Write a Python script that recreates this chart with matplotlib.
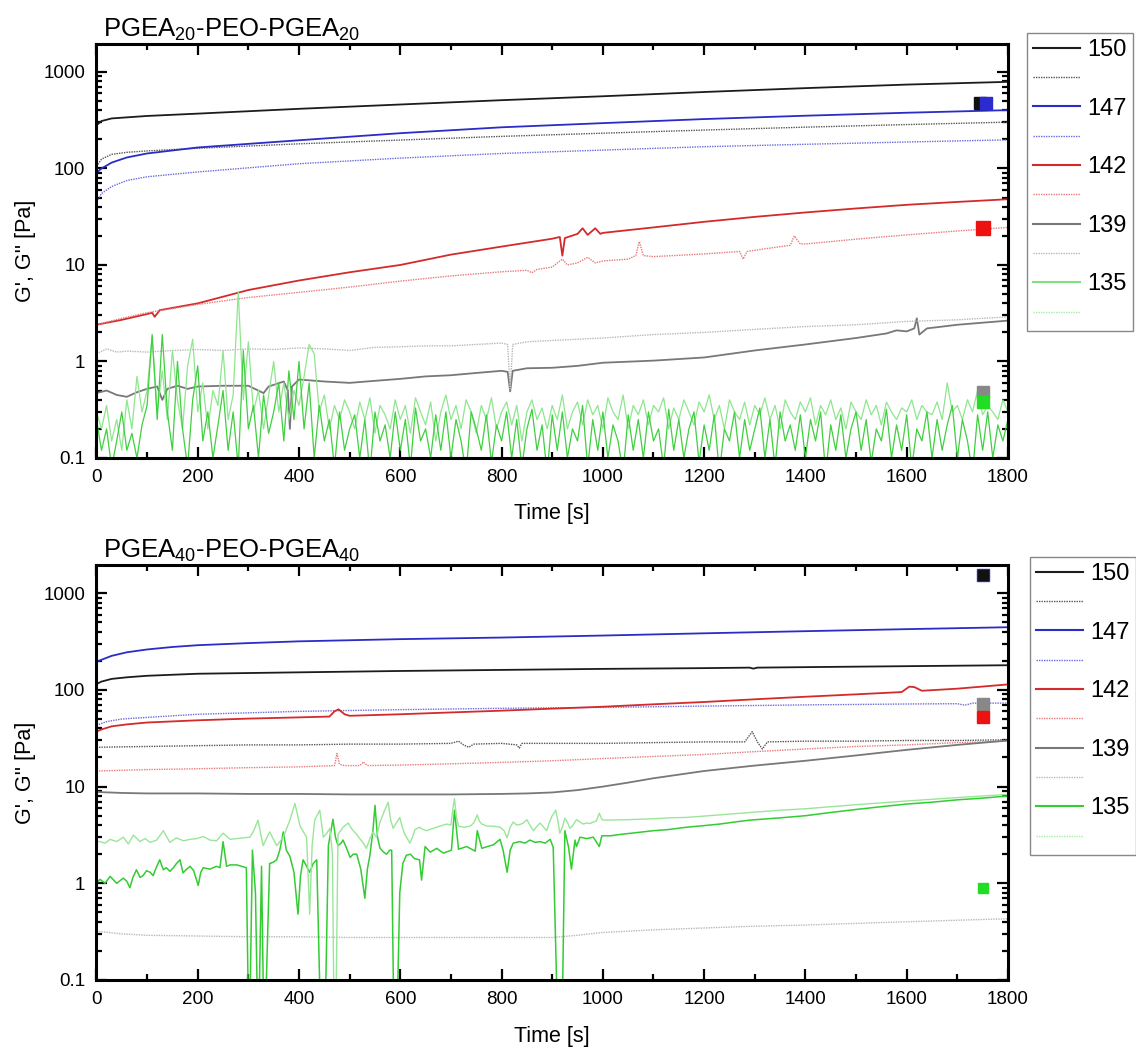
import numpy as np
import matplotlib.pyplot as plt
from matplotlib.ticker import LogLocator, NullFormatter, MultipleLocator
from matplotlib.lines import Line2D

plt.rcParams['font.family'] = ['Liberation Sans', 'DejaVu Sans']
plt.rcParams['mathtext.default'] = 'regular'

# ---------------- data (time [s], modulus [Pa]) ----------------
temps = ['150', '147', '142', '139', '135']

# top panel: PGEA20-PEO-PGEA20
top_150_gp = [(0, 280), (10, 310), (30, 330), (100, 350), (200, 370), (400, 415), (600, 460),
              (800, 510), (1000, 560), (1200, 620), (1400, 680), (1600, 740), (1800, 790)]
top_150_gpp = [(0, 105), (10, 125), (30, 140), (60, 147), (100, 152), (200, 162), (400, 180),
               (600, 197), (800, 215), (1000, 232), (1200, 250), (1400, 268), (1600, 285), (1800, 302)]
top_147_gp = [(0, 90), (10, 100), (30, 115), (60, 130), (100, 143), (200, 165), (400, 196),
              (600, 232), (800, 267), (1000, 295), (1200, 325), (1400, 352), (1600, 378), (1800, 402)]
top_147_gpp = [(0, 45), (10, 55), (30, 65), (60, 75), (100, 82), (200, 92), (400, 112), (600, 128),
               (800, 143), (1000, 155), (1200, 168), (1400, 178), (1600, 188), (1800, 198)]
top_142_gp = [(0, 2.4), (50, 2.7), (100, 3.1), (110, 3.2), (115, 2.9), (125, 3.4), (200, 4.0),
              (300, 5.5), (400, 6.9), (500, 8.4), (600, 10.0), (700, 12.8), (800, 15.5), (900, 18.7),
              (915, 19.5), (920, 12.5), (925, 19), (950, 21), (960, 24), (970, 20.5), (985, 24),
              (995, 21), (1000, 21.5), (1100, 24.5), (1200, 28), (1300, 31.5), (1400, 35),
              (1500, 38.5), (1600, 42), (1700, 45), (1800, 48)]
top_142_gpp = [(0, 2.4), (50, 2.8), (100, 3.2), (200, 3.9), (300, 4.6), (400, 5.2), (500, 5.9),
               (600, 6.8), (700, 7.7), (800, 8.5), (850, 8.8), (860, 8.3), (870, 9.0), (900, 9.5),
               (920, 11.5), (930, 10), (950, 10.5), (970, 12), (985, 10.5), (1000, 11), (1050, 11.5),
               (1065, 12.5), (1072, 17.5), (1080, 12.5), (1100, 12.2), (1200, 13), (1270, 13.8),
               (1277, 11.5), (1285, 13.8), (1300, 14.2), (1370, 16), (1378, 20), (1390, 16.5),
               (1400, 16.5), (1500, 18.5), (1600, 20.5), (1700, 22.5), (1800, 24.5)]
top_139_gp = [(0, 0.47), (20, 0.5), (40, 0.45), (60, 0.43), (80, 0.48), (100, 0.52), (120, 0.55),
              (130, 0.4), (140, 0.52), (160, 0.56), (180, 0.52), (200, 0.55), (250, 0.56), (300, 0.56),
              (330, 0.47), (340, 0.55), (370, 0.62), (378, 0.5), (382, 0.2), (386, 0.55), (400, 0.65),
              (450, 0.62), (500, 0.6), (550, 0.63), (600, 0.66), (650, 0.7), (700, 0.72), (750, 0.76),
              (800, 0.8), (812, 0.78), (817, 0.49), (822, 0.8), (850, 0.85), (900, 0.86), (950, 0.9),
              (1000, 0.97), (1100, 1.02), (1200, 1.1), (1300, 1.3), (1400, 1.5), (1500, 1.75),
              (1560, 1.95), (1580, 2.1), (1600, 2.05), (1615, 2.2), (1620, 2.8), (1625, 1.9),
              (1640, 2.2), (1700, 2.4), (1800, 2.65)]
top_139_gpp = [(0, 1.2), (20, 1.35), (40, 1.25), (60, 1.28), (100, 1.25), (150, 1.3), (200, 1.33),
               (250, 1.3), (300, 1.35), (350, 1.33), (400, 1.38), (450, 1.35), (500, 1.3), (550, 1.4),
               (600, 1.42), (650, 1.45), (700, 1.45), (750, 1.5), (800, 1.55), (812, 1.5), (817, 0.52),
               (822, 1.5), (850, 1.6), (900, 1.65), (1000, 1.75), (1100, 1.9), (1200, 2.0), (1300, 2.15),
               (1400, 2.3), (1500, 2.4), (1600, 2.6), (1700, 2.7), (1800, 2.9)]
# 135 traces are sampled every 10 s
top_135_t = np.arange(0, 1801, 10)
top_135_gp = [0.25, 0.12, 0.2, 0.08, 0.15, 0.3, 0.12, 0.18, 0.1, 0.22,
              0.35, 1.9, 0.25, 1.9, 0.3, 0.12, 1.0, 0.2, 0.08, 0.4,
              0.9, 0.15, 0.3, 0.1, 0.22, 0.5, 0.12, 0.3, 0.08, 1.3,
              0.2, 0.35, 0.1, 0.45, 0.18, 0.3, 0.6, 0.15, 0.8, 0.25,
              1.0, 0.2, 0.6, 0.1, 0.35, 0.15, 0.25, 0.08, 0.3, 0.12,
              0.2, 0.28, 0.1, 0.25, 0.07, 0.3, 0.15, 0.22, 0.1, 0.3,
              0.12, 0.25, 0.08, 0.33, 0.15, 0.2, 0.1, 0.28, 0.12, 0.3,
              0.1, 0.25, 0.15, 0.07, 0.3, 0.2, 0.12, 0.28, 0.09, 0.22,
              0.15, 0.3, 0.1, 0.25, 0.08, 0.2, 0.32, 0.12, 0.22, 0.07,
              0.28, 0.12, 0.3, 0.1, 0.2, 0.15, 0.35, 0.08, 0.25, 0.12,
              0.3, 0.1, 0.22, 0.15, 0.07, 0.28, 0.12, 0.25, 0.1, 0.3,
              0.15, 0.2, 0.08, 0.32, 0.12, 0.25, 0.1, 0.2, 0.3, 0.09,
              0.22, 0.12, 0.28, 0.07, 0.2, 0.15, 0.3, 0.1, 0.25, 0.12,
              0.2, 0.33, 0.1, 0.25, 0.08, 0.3, 0.15, 0.22, 0.12, 0.28,
              0.1, 0.25, 0.15, 0.3, 0.07, 0.22, 0.12, 0.28, 0.1, 0.2,
              0.3, 0.12, 0.25, 0.09, 0.2, 0.15, 0.32, 0.1, 0.22, 0.12,
              0.28, 0.08, 0.2, 0.15, 0.3, 0.1, 0.25, 0.12, 0.22, 0.35,
              0.1, 0.25, 0.15, 0.07, 0.28, 0.12, 0.3, 0.1, 0.22, 0.15,
              0.25]
top_135_gpp = [0.3, 0.2, 0.35, 0.15, 0.25, 0.12, 0.4, 0.2, 0.7, 0.3,
               0.5, 1.8, 0.3, 0.8, 0.25, 1.3, 0.4, 0.2, 0.9, 1.7,
               0.3, 0.6, 0.2, 0.5, 0.35, 1.3, 0.25, 0.45, 5.3, 0.4,
               1.6, 0.3, 0.5, 0.2, 0.45, 1.0, 0.3, 0.6, 0.25, 0.5,
               0.35, 0.7, 1.5, 1.2, 0.3, 0.45, 0.2, 0.35, 0.25, 0.4,
               0.3, 0.2, 0.38, 0.25, 0.42, 0.18, 0.35, 0.28, 0.2, 0.4,
               0.25, 0.35, 0.18, 0.42, 0.3, 0.22, 0.38, 0.15, 0.3, 0.45,
               0.25, 0.35, 0.2, 0.4, 0.3, 0.18, 0.35, 0.25, 0.42, 0.2,
               0.3, 0.38, 0.22, 0.35, 0.15, 0.3, 0.4, 0.25, 0.33, 0.2,
               0.35, 0.25, 0.45, 0.2, 0.3, 0.38, 0.22, 0.4, 0.28, 0.35,
               0.2, 0.42, 0.3, 0.25, 0.45, 0.2, 0.35, 0.28, 0.4, 0.22,
               0.35, 0.3, 0.42, 0.2, 0.33, 0.25, 0.4, 0.3, 0.22, 0.38,
               0.3, 0.45, 0.25, 0.35, 0.2, 0.4, 0.3, 0.25, 0.38, 0.22,
               0.35, 0.28, 0.42, 0.25, 0.35, 0.2, 0.4, 0.3, 0.25, 0.38,
               0.3, 0.42, 0.22, 0.35, 0.28, 0.4, 0.25, 0.33, 0.2, 0.38,
               0.3, 0.25, 0.4, 0.28, 0.35, 0.22, 0.38, 0.3, 0.25, 0.33,
               0.3, 0.4, 0.25, 0.35, 0.3, 0.28, 0.38, 0.25, 0.6, 0.3,
               0.35, 0.25, 0.4, 0.3, 0.5, 0.28, 0.35, 0.3, 0.25, 0.4,
               0.3]
# single square points at the end of the run
top_marks = [(1744, 480, '#111111', 8), (1756, 480, '#2b2bd0', 8), (1750, 24, '#ee1111', 10),
             (1750, 0.48, '#888888', 9), (1750, 0.38, '#22dd22', 9)]

# bottom panel: PGEA40-PEO-PGEA40
bot_150_gp = [(0, 115), (10, 122), (30, 130), (60, 135), (100, 140), (200, 147), (400, 152),
              (600, 157), (800, 161), (1000, 165), (1200, 168), (1290, 170), (1297, 166),
              (1305, 170), (1400, 172), (1600, 176), (1800, 180)]
bot_150_gpp = [(0, 25.5), (100, 26), (200, 26.5), (300, 27), (400, 27), (500, 27.5), (600, 27.5),
               (700, 28), (715, 29.5), (725, 27), (735, 25.5), (745, 27.5), (800, 28), (830, 27),
               (835, 25), (840, 28), (900, 28), (1000, 28), (1100, 28.5), (1200, 29), (1280, 29),
               (1295, 37), (1305, 29), (1315, 24.5), (1325, 29), (1400, 29.5), (1500, 29.5),
               (1600, 30), (1700, 30), (1800, 30.5)]
bot_147_gp = [(0, 195), (10, 205), (30, 225), (60, 245), (100, 262), (150, 278), (200, 290),
              (300, 305), (400, 318), (600, 335), (800, 348), (1000, 365), (1200, 385), (1400, 405),
              (1600, 425), (1800, 445)]
bot_147_gpp = [(0, 43), (20, 47), (50, 50), (100, 52), (200, 56), (400, 60), (600, 62.5), (800, 64.5),
               (1000, 66), (1200, 68), (1400, 70), (1600, 71.5), (1700, 72), (1715, 69.5), (1730, 73),
               (1800, 73)]
bot_142_gp = [(0, 37), (10, 39), (30, 42), (60, 44), (100, 46), (200, 48.5), (300, 50.5), (400, 52),
              (460, 53), (470, 60), (478, 63), (490, 56), (500, 54), (600, 56), (700, 58.5), (800, 61),
              (900, 64), (1000, 67), (1100, 71), (1200, 75), (1300, 80), (1400, 85), (1500, 90),
              (1590, 95), (1605, 108), (1615, 107), (1630, 98), (1700, 103), (1800, 114)]
bot_142_gpp = [(0, 14.5), (100, 15), (200, 15.3), (300, 15.7), (400, 16), (470, 16.5), (475, 22),
               (480, 17), (490, 16.5), (520, 16.5), (527, 18), (535, 16.5), (600, 16.7), (700, 17.2),
               (800, 17.8), (900, 18.5), (1000, 19.5), (1100, 20.5), (1200, 21.5), (1300, 23),
               (1400, 24.5), (1500, 26), (1600, 27), (1700, 28.5), (1800, 29.5)]
bot_139_gp = [(0, 8.8), (50, 8.6), (100, 8.5), (200, 8.5), (300, 8.4), (400, 8.4), (500, 8.3),
              (600, 8.3), (700, 8.3), (800, 8.4), (850, 8.5), (900, 8.7), (950, 9.2), (1000, 10),
              (1050, 11), (1100, 12.2), (1150, 13.3), (1200, 14.5), (1300, 16.5), (1400, 18.5),
              (1500, 21), (1600, 24), (1700, 27), (1800, 30)]
bot_139_gpp = [(0, 0.32), (50, 0.3), (100, 0.29), (200, 0.285), (300, 0.28), (400, 0.28), (500, 0.275),
               (600, 0.275), (700, 0.275), (800, 0.275), (900, 0.275), (950, 0.29), (1000, 0.31),
               (1100, 0.33), (1200, 0.345), (1300, 0.36), (1400, 0.37), (1500, 0.385), (1600, 0.4),
               (1700, 0.415), (1800, 0.43)]
bot_135_gp = [(0, 1.0), (7, 1.1), (17, 1.0), (27, 1.18), (40, 1.0), (53, 1.13), (60, 1.05), (66, 0.9),
              (72, 1.15), (79, 1.38), (86, 1.15), (92, 1.2), (99, 1.35), (106, 1.3), (112, 1.2),
              (118, 1.45), (125, 1.75), (132, 1.38), (138, 1.45), (145, 1.33), (152, 1.45), (158, 1.6),
              (165, 1.75), (171, 1.28), (178, 1.4), (185, 1.5), (192, 1.35), (201, 0.95), (206, 1.3),
              (211, 1.45), (224, 1.4), (237, 1.5), (244, 1.45), (250, 2.7), (257, 1.5), (264, 1.55),
              (277, 1.55), (286, 1.5), (296, 1.45), (300, 0.05), (303, 0.05), (308, 2.2), (314, 0.8),
              (318, 0.05), (321, 0.05), (326, 1.5), (330, 0.05), (334, 0.05), (342, 1.6), (349, 1.65),
              (356, 1.75), (362, 2.2), (369, 3.4), (375, 2.2), (382, 1.9), (390, 1.3), (398, 0.48),
              (403, 1.2), (408, 1.75), (415, 1.5), (421, 1.3), (428, 1.6), (435, 1.75), (442, 0.05),
              (446, 0.05), (449, 0.05), (452, 0.05), (458, 2.45), (463, 3.5), (467, 4.6), (472, 3.0),
              (477, 2.45), (483, 2.6), (487, 2.8), (494, 2.3), (501, 1.85), (507, 2.0), (514, 2.0),
              (522, 1.4), (530, 0.7), (535, 1.4), (540, 1.95), (546, 3.5), (550, 6.4), (555, 3.0),
              (560, 2.3), (567, 2.1), (573, 2.0), (579, 2.2), (583, 2.2), (587, 0.05), (591, 0.05),
              (594, 0.05), (599, 0.8), (605, 1.6), (612, 1.95), (620, 2.0), (628, 1.8), (638, 1.75),
              (642, 1.08), (649, 2.4), (659, 2.1), (672, 2.3), (685, 2.05), (701, 2.2), (707, 5.7),
              (715, 2.25), (731, 2.4), (748, 2.15), (752, 3.5), (761, 2.3), (772, 2.4), (784, 2.5),
              (797, 2.85), (803, 2.2), (811, 1.3), (817, 2.2), (823, 2.6), (836, 2.7), (846, 2.6),
              (856, 2.8), (866, 2.65), (876, 2.7), (886, 2.6), (896, 2.85), (902, 2.35), (910, 0.05),
              (913, 0.05), (917, 0.05), (920, 0.05), (925, 3.5), (932, 2.4), (938, 1.4), (945, 2.8),
              (948, 2.4), (955, 3.0), (968, 2.9), (981, 3.0), (993, 2.4), (998, 3.1), (1015, 3.1),
              (1034, 3.2), (1067, 3.35), (1100, 3.5), (1130, 3.6), (1165, 3.8), (1200, 3.95),
              (1231, 4.1), (1260, 4.3), (1290, 4.5), (1350, 4.75), (1400, 5.0), (1450, 5.4),
              (1500, 5.8), (1550, 6.2), (1600, 6.6), (1650, 6.9), (1700, 7.3), (1750, 7.6), (1800, 8.0)]
bot_135_gpp = [(0, 2.7), (7, 2.7), (17, 2.6), (27, 2.85), (40, 2.7), (53, 3.0), (63, 2.55), (73, 3.15),
               (86, 2.7), (96, 2.9), (106, 2.65), (119, 2.8), (132, 3.5), (145, 2.65), (158, 2.95),
               (172, 2.75), (185, 2.85), (198, 2.9), (211, 3.05), (224, 2.8), (237, 2.75), (250, 3.3),
               (264, 2.85), (277, 2.9), (290, 2.95), (303, 3.0), (310, 3.45), (319, 4.5), (329, 2.45),
               (342, 3.4), (356, 2.45), (369, 3.0), (382, 4.5), (392, 6.7), (402, 3.9), (415, 3.0),
               (421, 0.48), (426, 2.5), (431, 4.5), (441, 5.7), (448, 3.0), (455, 3.3), (461, 3.7),
               (466, 2.0), (469, 0.05), (473, 0.05), (477, 3.2), (487, 3.8), (497, 4.2), (505, 3.6),
               (514, 3.2), (527, 2.6), (533, 2.3), (540, 2.9), (546, 3.4), (553, 3.0), (560, 4.3),
               (568, 5.5), (576, 6.9), (581, 4.5), (586, 3.7), (592, 4.2), (599, 4.8), (604, 3.8),
               (609, 3.2), (619, 2.6), (624, 3.0), (629, 3.6), (638, 3.8), (645, 3.6), (652, 3.5),
               (665, 3.7), (678, 3.9), (692, 4.1), (700, 4.0), (704, 6.0), (707, 7.5), (711, 4.8),
               (715, 3.9), (726, 3.8), (738, 3.9), (745, 4.2), (752, 5.1), (756, 4.4), (761, 4.1),
               (772, 3.9), (784, 3.9), (797, 3.8), (805, 3.5), (811, 2.95), (817, 3.8), (823, 4.3),
               (830, 4.0), (836, 4.05), (843, 4.2), (850, 4.55), (856, 4.0), (863, 3.5), (870, 3.9),
               (876, 4.2), (883, 3.8), (889, 3.5), (894, 4.2), (899, 4.9), (907, 5.7), (911, 4.5),
               (915, 3.3), (920, 3.8), (925, 4.7), (930, 4.3), (935, 3.7), (941, 4.0), (948, 4.55),
               (955, 4.3), (961, 4.1), (968, 4.2), (975, 4.15), (981, 4.3), (987, 4.4), (993, 5.3),
               (998, 4.6), (1001, 4.5), (1050, 4.55), (1100, 4.65), (1130, 4.75), (1165, 4.8),
               (1200, 4.95), (1231, 5.1), (1260, 5.25), (1290, 5.4), (1350, 5.7), (1400, 5.9),
               (1450, 6.2), (1500, 6.5), (1550, 6.8), (1600, 7.1), (1650, 7.4), (1700, 7.7),
               (1750, 8.0), (1800, 8.3)]
bot_marks = [(1750, 1550, '#2b2bd0', 9), (1750, 1550, '#111111', 7), (1750, 72, '#888888', 8),
             (1750, 52, '#ee1111', 8), (1750, 0.9, '#22dd22', 7)]

# colours: (solid G', dotted G'')
colors = {'150': ('#1c1c1c', '#555555'),
          '147': ('#2b2bc8', '#6a6ae0'),
          '142': ('#d42a2a', '#e87a7a'),
          '139': ('#787878', '#b8b8b8'),
          '135': ('#33cc33', '#99e699')}
DOT = (0, (1, 0.8))


def xy(pairs):
    a = np.array(pairs, dtype=float)
    return a[:, 0], a[:, 1]


def style(ax, title, ytop, xlab_y):
    ax.set_yscale('log')
    ax.set_xlim(0, 1800)
    ax.set_ylim(0.1, ytop)
    ax.set_xticks(range(0, 1801, 200))
    ax.xaxis.set_minor_locator(MultipleLocator(100))
    ax.set_yticks([0.1, 1, 10, 100, 1000])
    ax.set_yticklabels(['0.1', '1', '10', '100', '1000'])
    ax.yaxis.set_minor_locator(LogLocator(base=10, subs=np.arange(2, 10)))
    ax.yaxis.set_minor_formatter(NullFormatter())
    ax.tick_params(which='both', direction='in', top=True, right=True, labelsize=13.5,
                   width=1.6, colors='black')
    ax.tick_params(which='major', length=8, pad=8)
    ax.tick_params(which='minor', length=4.5)
    for s in ax.spines.values():
        s.set_linewidth(2.2)
    ax.set_xlabel('Time [s]', fontsize=15.5)
    ax.xaxis.set_label_coords(0.5, xlab_y)
    ax.set_ylabel("G', G'' [Pa]", fontsize=15.5)
    ax.yaxis.set_label_coords(-0.066, 0.5)
    ax.text(0.007, 1.018, title, transform=ax.transAxes, fontsize=18.5, ha='left', va='baseline')


def draw(ax, series, marks):
    for key, gp, gpp in series:
        c1, c2 = colors[key]
        lw = 1.3 if key != '135' else 1.1
        ax.plot(*xy(gp), color=c1, lw=lw)
        ax.plot(*xy(gpp), color=c2, lw=1.0, ls=DOT if key != '135' else '-')
    for t, v, c, ms in marks:
        ax.plot([t], [v], marker='s', ms=ms, color=c, mec=c, ls='none', clip_on=False)


fig = plt.figure(figsize=(11.36, 10.47), dpi=100)
ax1 = fig.add_axes([0.0849, 0.5626, 0.8024, 0.3954])
ax2 = fig.add_axes([0.0849, 0.0640, 0.8024, 0.3964])

top_series = [('150', top_150_gp, top_150_gpp), ('147', top_147_gp, top_147_gpp),
              ('142', top_142_gp, top_142_gpp), ('139', top_139_gp, top_139_gpp)]
draw(ax1, top_series, [])
ax1.plot(top_135_t, top_135_gpp, color='#8ee68e', lw=0.9)
ax1.plot(top_135_t, top_135_gp, color='#3fcf3f', lw=0.9)
draw(ax1, [], top_marks)

bot_series = [('150', bot_150_gp, bot_150_gpp), ('147', bot_147_gp, bot_147_gpp),
              ('142', bot_142_gp, bot_142_gpp), ('139', bot_139_gp, bot_139_gpp),
              ('135', bot_135_gp, bot_135_gpp)]
draw(ax2, bot_series, bot_marks)

style(ax1, 'PGEA$_{20}$-PEO-PGEA$_{20}$', 1950, -0.108)
style(ax2, 'PGEA$_{40}$-PEO-PGEA$_{40}$', 1960, -0.11)

# legends (label only on the solid G' line, dotted G'' line unlabelled)
for anchor, green in [((1027 / 1136, 1 - 33 / 1047), '#7fe07f'), ((1030 / 1136, 1 - 557 / 1047), '#33cc33')]:
    handles, labels = [], []
    for key in temps:
        c1, c2 = colors[key]
        if key == '135':
            c1 = green
            c2 = '#a8eca8'
        handles.append(Line2D([], [], color=c1, lw=1.5))
        handles.append(Line2D([], [], color=c2, lw=1.0, ls=DOT))
        labels += [key, '']
    fig.legend(handles, labels, loc='upper left', bbox_to_anchor=anchor, fontsize=17,
               frameon=True, fancybox=False, edgecolor='#888888', framealpha=1,
               handlelength=2.0, labelspacing=0.31, borderpad=0.25, handletextpad=0.3,
               borderaxespad=0)

fig.savefig('out.png', dpi=100)
